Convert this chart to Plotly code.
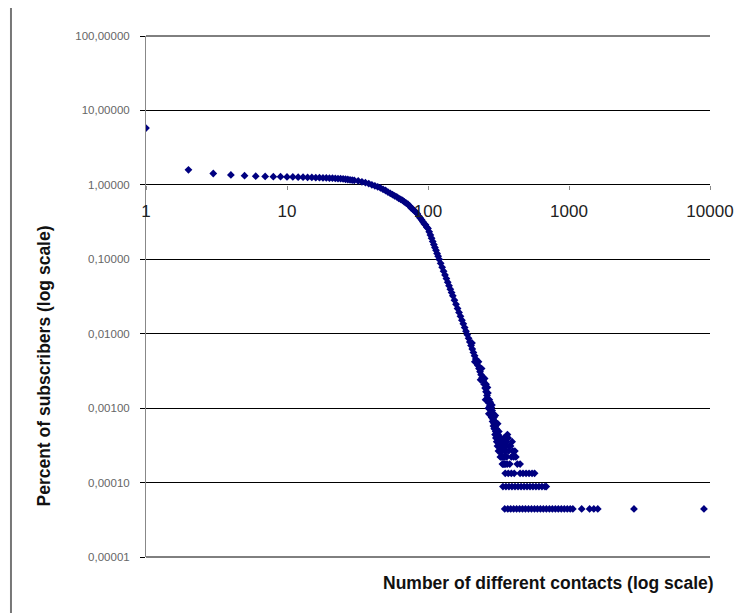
import plotly.graph_objects as go

# ---- data ----
x_curve = [1, 2, 3, 4, 5, 6, 7, 8, 9, 10, 11, 12, 13, 14, 15, 16, 17, 18, 19, 20,
           21, 22, 23, 24, 25, 26, 27, 28, 29, 30, 32, 34, 36, 38, 40, 42, 44, 46, 48, 50,
           52, 54, 56, 58, 60, 62, 64, 66, 68, 70, 72, 74, 76, 78, 80, 82, 84, 86, 88, 90,
           92, 94, 96, 98, 100, 102, 104, 106, 108, 110, 112, 114, 116, 118, 120, 123, 126,
           129, 132, 135, 138, 141, 144, 147, 150, 154, 158, 162, 166, 170, 174, 178, 182,
           186, 190, 194, 198, 202, 206, 210, 214, 218, 222, 226, 230, 234, 238, 242, 246,
           250, 254, 258, 262, 266, 270, 274]
y_curve = [5.8, 1.59, 1.42, 1.36, 1.33, 1.31, 1.30, 1.29, 1.29, 1.28, 1.28, 1.27, 1.27, 1.26,
           1.26, 1.25, 1.25, 1.24, 1.24, 1.23, 1.23, 1.22, 1.21, 1.21, 1.20, 1.19, 1.18, 1.17,
           1.16, 1.15, 1.13, 1.10, 1.07, 1.04, 1.00, 0.97, 0.94, 0.91, 0.87, 0.84, 0.80, 0.77,
           0.74, 0.71, 0.69, 0.66, 0.64, 0.62, 0.59, 0.57, 0.55, 0.52, 0.49, 0.47, 0.45, 0.43,
           0.41, 0.38, 0.36, 0.34, 0.32, 0.30, 0.29, 0.27, 0.26, 0.234, 0.212, 0.192, 0.174,
           0.158, 0.144, 0.132, 0.120, 0.110, 0.100, 0.0883, 0.0781, 0.0693, 0.0617, 0.0551,
           0.0492, 0.0442, 0.0397, 0.0357, 0.0323, 0.0282, 0.0248, 0.0218, 0.0193, 0.0171,
           0.0152, 0.0136, 0.0121, 0.0108, 0.0097, 0.00867, 0.00775, 0.00694, 0.00623,
           0.00561, 0.00506, 0.00456, 0.00413, 0.00374, 0.0034, 0.00309, 0.00282, 0.00257,
           0.00234, 0.0021, 0.00186, 0.00166, 0.00148, 0.00132, 0.00117, 0.00107]

# scattered points in the noisy tail
x_tail = [205, 215, 228, 236, 240, 252, 256, 264, 268, 258, 266, 272, 276, 270, 284,
          278, 278, 279, 282, 283, 281, 286, 287, 285, 290, 291, 289, 294, 295, 293,
          298, 299, 297, 302, 303, 301, 306, 307, 305, 310, 311, 309, 315, 316, 314,
          320, 321, 319, 325, 326, 324, 330, 331, 329, 336, 337, 335, 342, 343, 348, 350,
          356, 360, 362, 366, 372, 380, 385, 395, 405, 413, 430, 450, 365, 390, 420,
          300, 312, 318, 328, 340, 346, 352, 358, 370, 376, 400, 345, 355]
y_tail = [0.0075, 0.0042, 0.0042, 0.0024, 0.0034, 0.0025, 0.0013, 0.0019, 0.0010, 0.0021,
          0.0016, 0.0013, 0.0012, 0.00084, 0.0011,
          0.000972, 0.00084, 0.0011, 0.000884, 0.000751, 0.00102, 0.000796, 0.000663, 0.000928,
          0.000707, 0.000575, 0.00084, 0.000619, 0.00053, 0.000751, 0.000575, 0.000442,
          0.000663, 0.000486, 0.000398, 0.000575, 0.000442, 0.000354, 0.00053, 0.000398,
          0.000309, 0.000486, 0.000354, 0.000265, 0.000442, 0.000309, 0.000265, 0.000398,
          0.000265, 0.000221, 0.000354, 0.000265, 0.000221, 0.000309, 0.000221, 0.000177,
          0.000265, 0.000177, 0.000221, 0.000177, 0.000221, 0.000177, 0.000354, 0.000221,
          0.000442, 0.000265, 0.000177, 0.000309, 0.000354, 0.000221, 0.000265, 0.000177,
          0.000177, 0.000177, 0.000221, 0.000221,
          0.000796, 0.000619, 0.000486, 0.000398, 0.000309, 0.000398, 0.000265, 0.000309,
          0.000398, 0.000309, 0.000265, 0.000354, 0.000265]

# discrete floor levels (3, 2 and 1 subscribers)
x_three = [353, 371, 390, 409, 450, 472, 496, 521, 547, 570]
y_three = [0.000133] * 10
x_two = [340, 357, 375, 394, 414, 435, 457, 480, 504, 529, 555, 583, 612, 643, 675, 690]
y_two = [0.0000884] * 16
x_one = [350, 368, 386, 405, 425, 446, 468, 491, 516, 542, 569, 597, 627, 658, 691, 726,
         762, 800, 840, 882, 926, 972, 1020, 1065, 1230, 1400, 1500, 1600, 2890, 9060]
y_one = [0.0000442] * 30

x_tickvals = [1, 10, 100, 1000, 10000]
x_ticktext = ["1", "10", "100", "1000", "10000"]
y_tickvals = [100, 10, 1, 0.1, 0.01, 0.001, 0.0001, 0.00001]
y_ticktext = ["100,00000", "10,00000", "1,00000", "0,10000", "0,01000", "0,00100",
              "0,00010", "0,00001"]

xs = x_curve + x_tail + x_three + x_two + x_one
ys = y_curve + y_tail + y_three + y_two + y_one

fig = go.Figure()
fig.add_trace(go.Scatter(
    x=xs, y=ys, mode="markers",
    marker=dict(symbol="diamond", size=6, color="#000080", line=dict(width=0)),
    hoverinfo="x+y",
))

fig.update_layout(
    width=738, height=615,
    margin=dict(l=146, r=28, t=36, b=58, autoexpand=False),
    paper_bgcolor="white", plot_bgcolor="white",
    showlegend=False,
    font=dict(family="Arial, Liberation Sans, sans-serif", color="#222"),
    xaxis=dict(
        type="log", range=[0, 4], anchor="free", position=5 / 7,
        tickmode="array", tickvals=x_tickvals, ticktext=x_ticktext,
        ticks="outside", ticklen=4, tickcolor="#888", tickwidth=1,
        showline=False,
        showgrid=False, zeroline=False, automargin=False,
        tickfont=dict(size=17, color="#222"), ticklabelstandoff=7,
    ),
    yaxis=dict(
        type="log", range=[-5, 2],
        tickmode="array", tickvals=y_tickvals, ticktext=y_ticktext,
        ticks="outside", ticklen=5, tickcolor="black", tickwidth=1,
        showline=True, linecolor="#888", linewidth=1,
        showgrid=True, gridcolor="black", gridwidth=1,
        zeroline=False, automargin=False,
        tickfont=dict(size=11.5, color="#666"), ticklabelstandoff=8,
    ),
    annotations=[
        dict(text="<b>Number of different contacts (log scale)</b>",
             xref="paper", yref="paper", x=0.7137, y=-0.0499,
             xanchor="center", yanchor="middle", showarrow=False,
             font=dict(size=17.5, color="#111")),
        dict(text="<b>Percent of subscribers (log scale)</b>",
             xref="paper", yref="paper", x=-0.1817, y=0.3666, textangle=-90,
             xanchor="center", yanchor="middle", showarrow=False,
             font=dict(size=17.5, color="#111")),
    ],
    shapes=[
        dict(type="line", xref="paper", yref="paper",
             x0=-0.2394, x1=-0.2394, y0=1.0537, y1=-0.1075,
             line=dict(color="#777", width=2)),
        dict(type="line", xref="paper", yref="paper", x0=0, x1=1, y0=1, y1=1,
             line=dict(color="black", width=1), layer="below"),
        dict(type="line", xref="paper", yref="paper", x0=0, x1=1, y0=0, y1=0,
             line=dict(color="black", width=1), layer="below"),
    ],
)

fig.write_html("out.html",
               config={"displayModeBar": False},
               post_script="document.body.style.margin='0px';"
                           "document.body.style.overflow='hidden';")
